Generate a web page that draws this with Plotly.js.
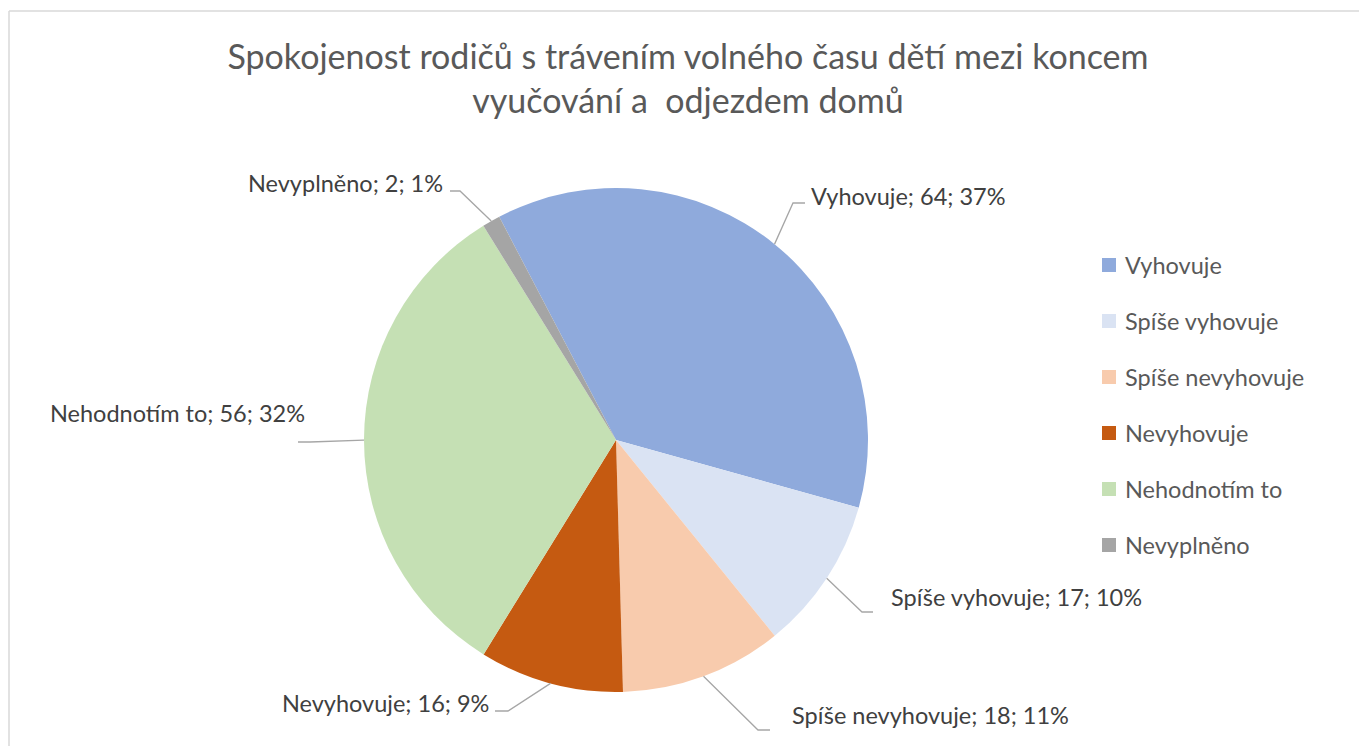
<!DOCTYPE html>
<html>
<head>
<meta charset="utf-8">
<script src="https://cdn.plot.ly/plotly-3.0.1.min.js"></script>
<style>html,body{margin:0;padding:0;background:#fff;}#chart{width:1359px;height:746px;}</style>
</head>
<body>
<div id="chart"></div>
<script>
// ---- data ----
const categories = ["Vyhovuje", "Spíše vyhovuje", "Spíše nevyhovuje", "Nevyhovuje", "Nehodnotím to", "Nevyplněno"];
const counts = [64, 17, 18, 16, 56, 2];
const percentLabels = [37, 10, 11, 9, 32, 1];
const sliceColors = ["#8faadc", "#dae3f3", "#f8cbad", "#c55a11", "#c5e0b4", "#a5a5a5"];
const titleText = "Spokojenost rodičů s trávením volného času dětí mezi koncem<br>vyučování a  odjezdem domů";

// ---- layout helpers (pixel -> paper) ----
const W = 1359, H = 746;
const px = x => x / W;
const py = y => 1 - y / H;
const cx = 616, cy = 440, R = 252;
const rotationDeg = -27.6;
const FONT = "Lato, 'Open Sans', sans-serif";

// label placement (style): anchor side, text anchor point, elbow and line end
const labelPos = [
  {side: "left",  tx: 809, ty: 196, ex: 793, ey: 203, lx: 805, ly: 203},
  {side: "left",  tx: 889, ty: 597, ex: 862, ey: 612, lx: 873, ly: 612},
  {side: "left",  tx: 790, ty: 715, ex: 758, ey: 730, lx: 770, ly: 730},
  {side: "right", tx: 491, ty: 703, ex: 508, ey: 711, lx: 495, ly: 711},
  {side: "right", tx: 307, ty: 413, ex: 310, ey: 442, lx: 298, ly: 442},
  {side: "right", tx: 445, ty: 183, ex: 460, ey: 191, lx: 450, ly: 191}
];

const total = counts.reduce((a, b) => a + b, 0);
const annotations = [];
const shapes = [];

// chart area border
shapes.push({type: "line", xref: "paper", yref: "paper", x0: px(9), y0: py(11), x1: px(W), y1: py(11), line: {color: "#d9d9d9", width: 1.5}});
shapes.push({type: "line", xref: "paper", yref: "paper", x0: px(9), y0: py(11), x1: px(9), y1: py(H), line: {color: "#d9d9d9", width: 1.5}});

let cum = 0;
counts.forEach((v, i) => {
  const mid = (rotationDeg + (cum + v / 2) / total * 360) * Math.PI / 180;
  cum += v;
  const sx = cx + R * Math.sin(mid), sy = cy - R * Math.cos(mid);
  const p = labelPos[i];
  shapes.push({
    type: "path", xref: "paper", yref: "paper",
    path: `M ${px(sx)} ${py(sy)} L ${px(p.ex)} ${py(p.ey)} L ${px(p.lx)} ${py(p.ly)}`,
    line: {color: "#a6a6a6", width: 1.3}
  });
  annotations.push({
    xref: "paper", yref: "paper", x: px(p.tx), y: py(p.ty),
    xanchor: p.side, yanchor: "middle", showarrow: false,
    text: `${categories[i]}; ${v}; ${percentLabels[i]}%`,
    font: {family: FONT, size: 23.5, color: "#404040"}
  });
  // legend
  const ly = 265 + 56 * i;
  shapes.push({type: "rect", xref: "paper", yref: "paper", x0: px(1102), x1: px(1116), y0: py(ly - 7), y1: py(ly + 7), fillcolor: sliceColors[i], line: {width: 0}});
  annotations.push({
    xref: "paper", yref: "paper", x: px(1123), y: py(ly),
    xanchor: "left", yanchor: "middle", showarrow: false,
    text: categories[i],
    font: {family: FONT, size: 23.5, color: "#595959"}
  });
});

const trace = {
  type: "pie",
  labels: categories,
  values: counts,
  sort: false,
  direction: "clockwise",
  rotation: rotationDeg,
  marker: {colors: sliceColors, line: {color: "#ffffff", width: 0}},
  textinfo: "none",
  hoverinfo: "label+value+percent",
  domain: {x: [px(cx - R), px(cx + R)], y: [py(cy + R), py(cy - R)]},
  showlegend: false
};

const layout = {
  width: W, height: H,
  margin: {l: 0, r: 0, t: 0, b: 0},
  paper_bgcolor: "#ffffff",
  showlegend: false,
  title: {
    text: titleText,
    x: px(688), xanchor: "center",
    y: py(69), yanchor: "middle",
    font: {family: FONT, size: 34, color: "#595959"}
  },
  annotations: annotations,
  shapes: shapes
};

Plotly.newPlot("chart", [trace], layout, {displayModeBar: false, staticPlot: true});
</script>
</body>
</html>
